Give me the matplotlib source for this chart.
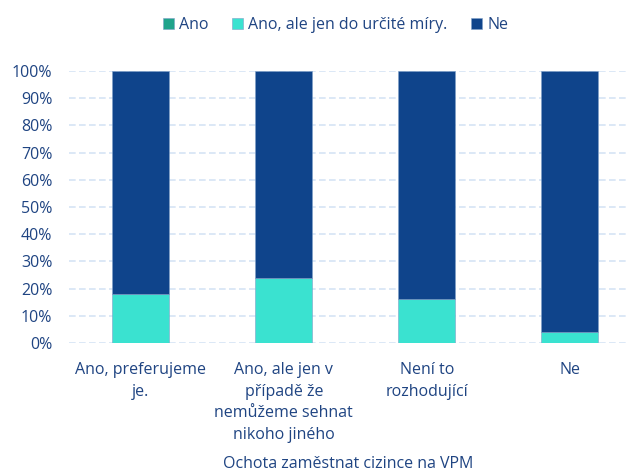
import matplotlib
matplotlib.use("Agg")
import matplotlib.pyplot as plt
import numpy as np

plt.rcParams['font.family'] = ['Open Sans', 'DejaVu Sans']

categories = ["Ano, preferujeme\nje.", "Ano, ale jen v\npřípadě že\nnemůžeme sehnat\nnikoho jiného",
              "Není to\nrozhodující", "Ne"]
series_names = ["Ano", "Ano, ale jen do určité míry.", "Ne"]
ano = [0, 0, 0, 0]
ano_partial = [18, 24, 16, 4]
ne = [82, 76, 84, 96]
colors = ["#1FA38B", "#3AE2D0", "#0F448B"]
text_color = "#1F4482"

fig = plt.figure(figsize=(6.27, 4.75), dpi=100)
ax = fig.add_axes([0.110, 0.278, 0.89, 0.5725])

x = np.arange(len(categories))
w = 0.4
bottom = np.zeros(len(categories))
for vals, name, c in zip([ano, ano_partial, ne], series_names, colors):
    ax.bar(x, vals, w, bottom=bottom, color=c, label=name, edgecolor="#7FA0C8", linewidth=0.4, zorder=3)
    bottom += np.array(vals)

ax.set_ylim(0, 100)
ax.set_xlim(-0.502, 3.4)
ax.set_yticks(np.arange(0, 101, 10))
ax.set_yticklabels([f"{v}%" for v in range(0, 101, 10)])
ax.set_xticks(x)
ax.set_xticklabels(categories, linespacing=1.45)
ax.tick_params(axis='both', length=0, labelsize=11.5, colors=text_color)
ax.tick_params(axis='y', pad=12)
ax.tick_params(axis='x', pad=14)
ax.yaxis.grid(True, color="#D6E4F5", linestyle=(0, (4, 2)), linewidth=1.2, zorder=0)
for s in ax.spines.values():
    s.set_visible(False)
ax.set_xlabel("Ochota zaměstnat cizince na VPM", color=text_color, fontsize=11.5, labelpad=10)

leg = fig.legend(loc="upper center", bbox_to_anchor=(0.535, 0.995), ncol=3, frameon=False,
                 fontsize=11.5, handlelength=0.7, handleheight=0.7, handletextpad=0.3, columnspacing=1.5)
for t in leg.get_texts():
    t.set_color(text_color)

fig.savefig("out.png", dpi=100)
